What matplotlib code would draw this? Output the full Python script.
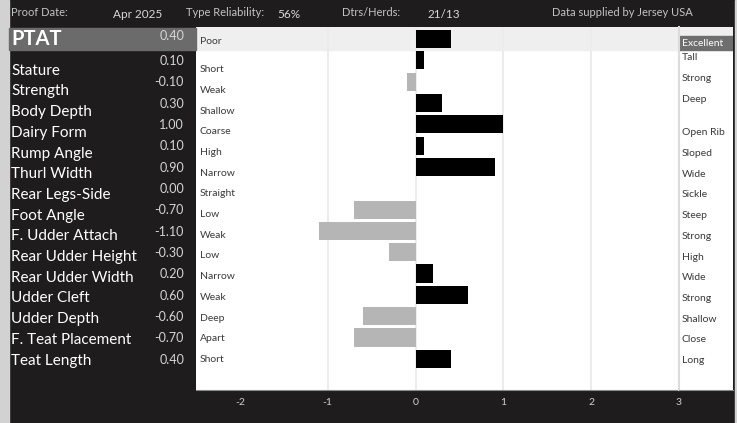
import matplotlib
matplotlib.use("Agg")
import matplotlib.pyplot as plt
import matplotlib.transforms as mtransforms
from matplotlib.patches import Rectangle

plt.rcParams['font.family'] = ['Lato', 'DejaVu Sans']

# data
traits = ['PTAT', 'Stature', 'Strength', 'Body Depth', 'Dairy Form', 'Rump Angle',
          'Thurl Width', 'Rear Legs-Side', 'Foot Angle', 'F. Udder Attach',
          'Rear Udder Height', 'Rear Udder Width', 'Udder Cleft', 'Udder Depth',
          'F. Teat Placement', 'Teat Length']
values = [0.40, 0.10, -0.10, 0.30, 1.00, 0.10, 0.90, 0.00, -0.70, -1.10,
          -0.30, 0.20, 0.60, -0.60, -0.70, 0.40]
low_labels = ['Poor', 'Short', 'Weak', 'Shallow', 'Coarse', 'High', 'Narrow', 'Straight',
              'Low', 'Weak', 'Low', 'Narrow', 'Weak', 'Deep', 'Apart', 'Short']
high_labels = ['Excellent', 'Tall', 'Strong', 'Deep', 'Open Rib', 'Sloped', 'Wide', 'Sickle',
               'Steep', 'Strong', 'High', 'Wide', 'Strong', 'Shallow', 'Close', 'Long']
xticks = [-2, -1, 0, 1, 2, 3]
header = [('Proof Date:', 'Apr 2025'), ('Type Reliability:', '56%'), ('Dtrs/Herds:', '21/13')]
source = 'Data supplied by Jersey USA'

W, H = 737, 423
BG = '#1e1c1c'
fig = plt.figure(figsize=(W / 100, H / 100), dpi=100, facecolor=BG)

# light strips on the edges
fig.patches.append(Rectangle((0, 0), 9 / W, 1, transform=fig.transFigure,
                             color='#d2d2d2', zorder=0))
fig.patches.append(Rectangle((735 / W, 0), 2 / W, 1, transform=fig.transFigure,
                             color='#d2d2d2', zorder=0))

top, bot = 27, 390
ax = fig.add_axes([196 / W, (H - bot) / H, (679 - 196) / W, (bot - top) / H])
ax2 = fig.add_axes([679 / W, (H - bot) / H, (733 - 679) / W, (bot - top) / H])

ylim = (16.46, -0.56)
n = len(traits)
rows = list(range(n))

ax.set_facecolor('white')
ax.axhspan(ylim[1], 0.5, color='#efefef', zorder=0)
for g in [-1, 0, 1, 2, 3]:
    ax.axvline(g, color='#ececec', lw=1.5, zorder=1)
colors = ['black' if v > 0 else '#b5b5b5' for v in values]
ax.barh(rows, values, height=0.85, color=colors, zorder=3)
ax.set_xlim(-2.5, 3.0)
ax.set_ylim(*ylim)
ax.set_yticks([])
ax.set_xticks(xticks)
ax.set_xticklabels([str(t) for t in xticks], color='#cfcfcf', fontsize=7.5)
ax.tick_params(axis='x', length=0, pad=6)
for s in ['top', 'left', 'right']:
    ax.spines[s].set_visible(False)
ax.spines['bottom'].set_color('#8a8a8a')

ax2.set_facecolor('white')
ax2.set_ylim(*ylim)
ax2.set_xlim(0, 1)
ax2.set_xticks([])
ax2.set_yticks([])
for s in ['top', 'right']:
    ax2.spines[s].set_visible(False)
ax2.spines['left'].set_color('#dcdcdc')
ax2.spines['left'].set_linewidth(1.5)
ax2.spines['bottom'].set_color('#8a8a8a')
ax2.axhspan(ylim[1], -0.14, color='#efefef', zorder=0)
ax2.axhspan(-0.14, 0.5, color='#6e6e6e', zorder=1)

trans = mtransforms.blended_transform_factory(fig.transFigure, ax.transData)


def fy(px):
    # figure fraction from a pixel row measured from the top
    return 1 - px / H


def row_px(i):
    # text rows in the reference run on a slightly tighter pitch than the bars
    return 50 + 20.7 * i


# PTAT highlight on the left panel
fig.patches.append(Rectangle((9 / W, -0.5), (196 - 9) / W, 1.0, transform=trans,
                             color='#6b6b6b', zorder=0))

for i, (name, v, lo, hi) in enumerate(zip(traits, values, low_labels, high_labels)):
    if i == 0:
        fig.text(11 / W, i, name, transform=trans, color='white', fontsize=14.5,
                 fontweight='bold', va='center', ha='left')
        fig.text(184 / W, i - 0.12, f'{v:.2f}', transform=trans, color='#d6d6d6',
                 fontsize=9, va='center', ha='right')
        ax.text(-2.46, i + 0.1, lo, color='#3a3a3a', fontsize=7.5, va='center',
                ha='left', zorder=4)
        ax2.text(0.06, 0.2, hi, color='white', fontsize=7.5, va='center', ha='left',
                 zorder=4)
        continue
    fig.text(11 / W, fy(row_px(i)), name, color='white', fontsize=11,
             va='center', ha='left')
    fig.text(184 / W, i + 0.03, f'{v:.2f}', transform=trans, color='#d6d6d6',
             fontsize=9, va='center', ha='right')
    fig.text(200 / W, fy(row_px(i) - 1), lo, color='#3a3a3a', fontsize=7.5,
             va='center', ha='left')
    if i < 4:
        hy_px = 39 + 21.33 * i - 3
    else:
        hy_px = row_px(i)
    fig.text(682 / W, fy(hy_px), hi, color='#3a3a3a', fontsize=7.5,
             va='center', ha='left')

# header line
hy = fy(13)
hx = [(11, 113), (186, 277), (342, 427)]
for (lab, val), (x1, x2) in zip(header, hx):
    fig.text(x1 / W, hy, lab, color='#c4c4c4', fontsize=8, va='center', ha='left')
    fig.text(x2 / W, fy(15), val, color='#d8d8d8', fontsize=8.5, va='center', ha='left')
fig.text(552 / W, hy, source, color='#c4c4c4', fontsize=8, va='center', ha='left')

fig.savefig('out.png', dpi=100, facecolor=BG)
